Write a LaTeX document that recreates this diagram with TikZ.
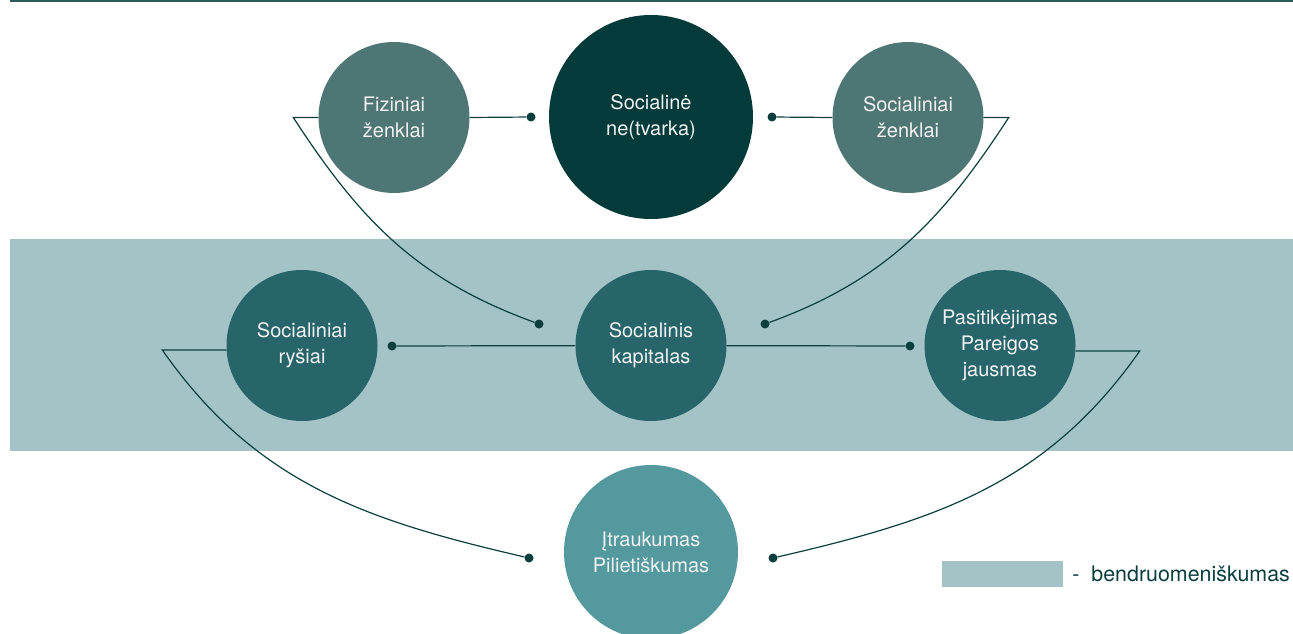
\documentclass[tikz,border=0pt]{standalone}
\usepackage{fontspec}
\setmainfont{TeX Gyre Heros}
\usetikzlibrary{calc}
\definecolor{linec}{HTML}{0B3F3E}
\definecolor{rulec}{HTML}{2E5C5B}
\definecolor{bandc}{HTML}{A3C3C7}
\definecolor{topc}{HTML}{4E7674}
\definecolor{darkc}{HTML}{033B3A}
\definecolor{midc}{HTML}{27656A}
\definecolor{lowc}{HTML}{53999D}
\tikzset{
  bubble/.style={circle, inner sep=0pt, align=center, text=white!95!black, font=\fontsize{20}{26}\selectfont},
  dot/.style={circle, fill=linec, inner sep=0pt, minimum size=9pt},
  link/.style={draw=linec, line width=1.2pt}
}
\begin{document}
\begin{tikzpicture}[x=1pt,y=1pt]
\useasboundingbox (0,0) rectangle (1293,-634);
%rule on top
\draw[rulec, line width=2pt] (10,-1.5) -- (1293,-1.5);
%bendruomeniskumas band
\fill[bandc] (10,-239) rectangle (1293,-451);
\begin{scope}[every node/.style={bubble, minimum size=151pt}]
%top row
\node[fill=topc] (fiz) at (394,-117.5) {Fiziniai\\ženklai};
\node[fill=darkc, minimum size=204pt] (tvarka) at (651,-117) {Socialinė\\ne(tvarka)};
\node[fill=topc] (zenk) at (908,-117.5) {Socialiniai\\ženklai};
%middle row
\node[fill=midc] (rys) at (302,-345.5) {Socialiniai\\ryšiai};
\node[fill=midc] (kap) at (651,-345.5) {Socialinis\\kapitalas};
\node[fill=midc] (pas) at (1000,-345.5) {Pasitikėjimas\\Pareigos\\jausmas};
%bottom
\node[fill=lowc, minimum size=174pt] (itr) at (651,-552) {Įtraukumas\\Pilietiškumas};
\end{scope}
%dots
\node[dot] (dfiz) at (531,-117) {};
\node[dot] (dzenk) at (772,-117) {};
\node[dot] (dkapl) at (539,-324) {};
\node[dot] (dkapr) at (765,-324) {};
\node[dot] (drys) at (392,-346) {};
\node[dot] (dpas) at (910,-346) {};
\node[dot] (ditrl) at (529,-558) {};
\node[dot] (ditrr) at (773,-558) {};
%links
\draw[link] (fiz.east) -- (dfiz);
\draw[link] (zenk.west) -- (dzenk);
\draw[link] (fiz.west) -- ++(-25,0) to[out=-57, in=160] (dkapl);
\draw[link] (zenk.east) -- ++(25,0) to[out=-123, in=20] (dkapr);
\draw[link] (drys) -- (kap) (kap) -- (dpas);
\draw[link] ([yshift=-4.5pt]rys.west) -- ++(-64,0) to[out=-55, in=167] (ditrl);
\draw[link] ([yshift=-5.5pt]pas.east) -- ++(64,0) to[out=-125, in=13] (ditrr);
%legend
\node[fill=bandc, minimum width=121pt, minimum height=26pt, inner sep=0pt] (key) at (1002.5,-574) {};
\node[anchor=west, inner sep=0pt, text=linec, font=\fontsize{21.4}{26}\selectfont] (keytext) at ([xshift=9pt]key.east) {-~~bendruomeniškumas};
\end{tikzpicture}
\end{document}
